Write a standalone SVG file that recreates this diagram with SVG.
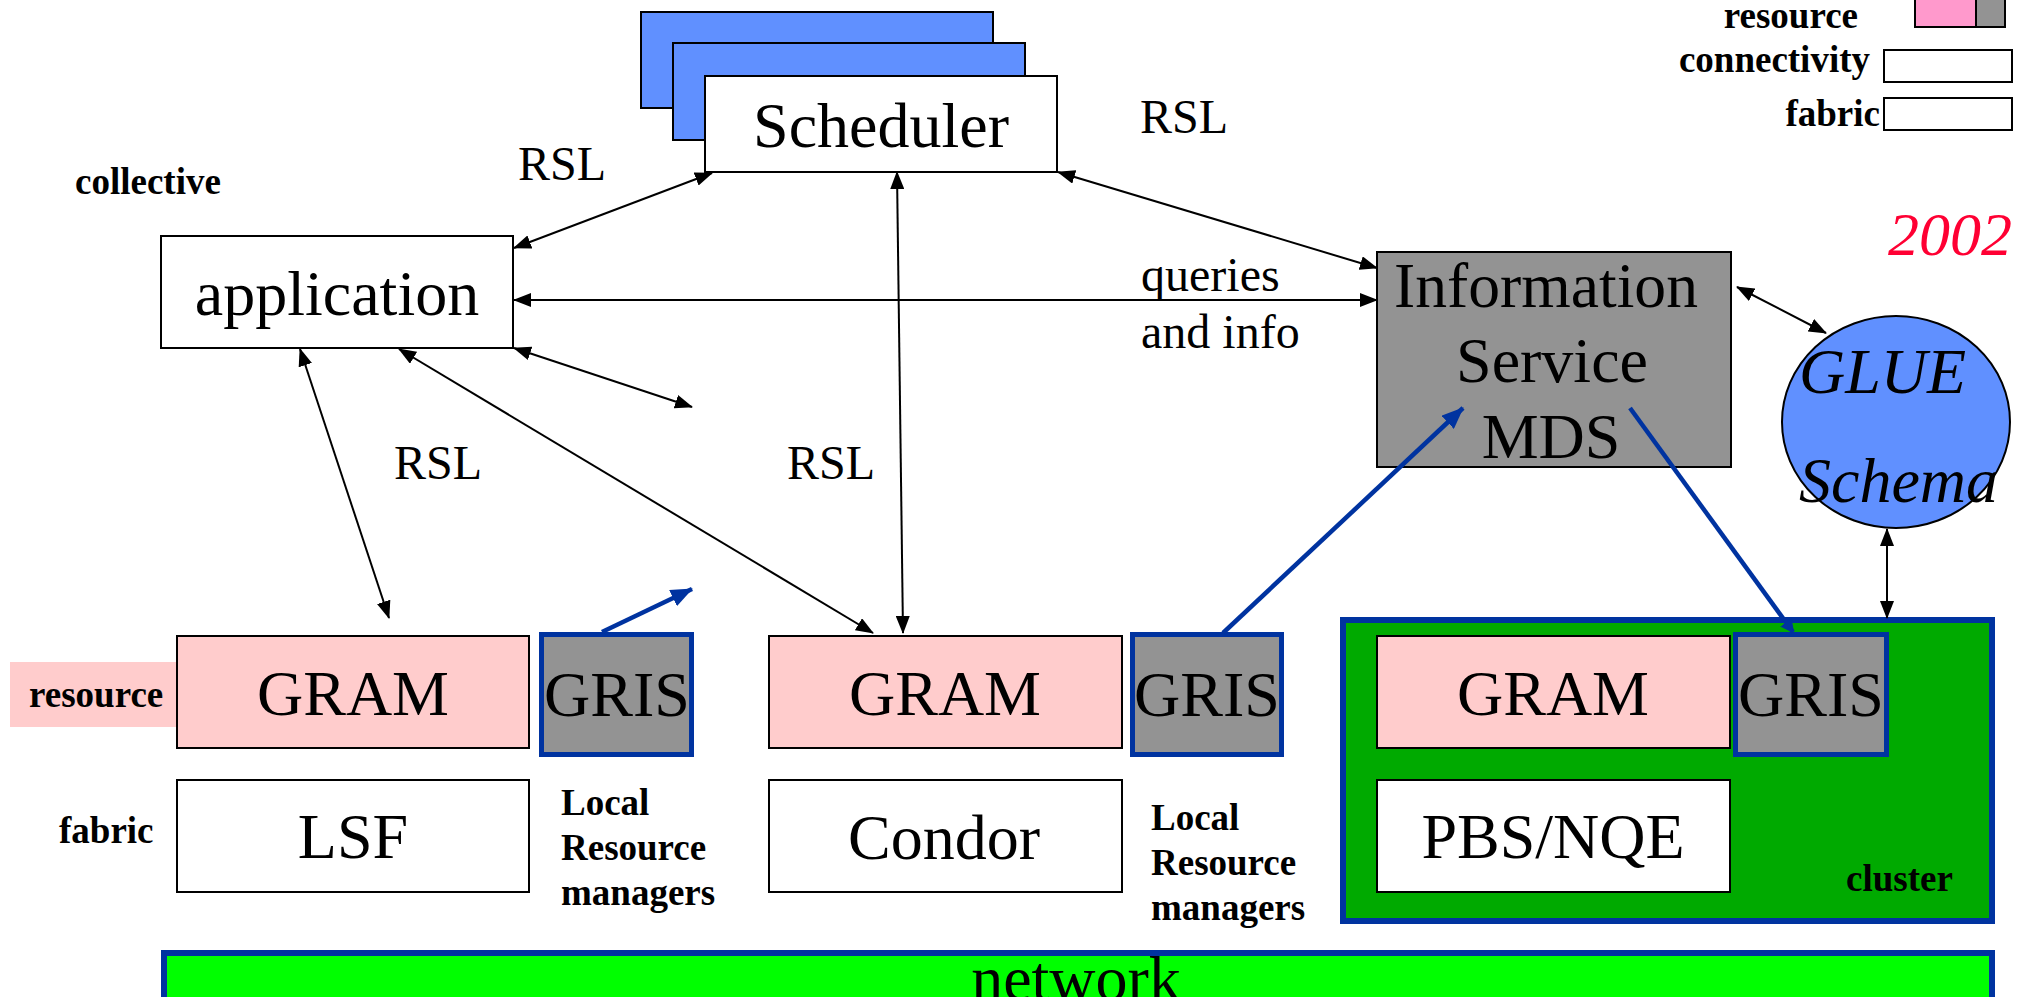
<svg xmlns="http://www.w3.org/2000/svg" width="2020" height="997" viewBox="0 0 2020 997">
<style>
.t{font-family:"Liberation Serif","Times New Roman",serif;fill:#000}
.big{font-size:64px}
.mid{font-size:48px}
.b{font-family:"Liberation Serif","Times New Roman",serif;font-weight:bold;font-size:37px;fill:#000}
.it{font-family:"Liberation Serif","Times New Roman",serif;font-style:italic;font-size:64px}
.box{stroke:#000;stroke-width:2}
.white{fill:#fff}
.pink{fill:#FFCCCC}
.gris{fill:#939393;stroke:#0033A0;stroke-width:5}
.bluebg{fill:#6090FF;stroke:#000;stroke-width:2}
.conn{stroke:#000;stroke-width:2;fill:none}
.bconn{stroke:#0033A0;stroke-width:4.5;fill:none}
</style>
<defs>
<marker id="ah" markerUnits="userSpaceOnUse" markerWidth="18" markerHeight="14" refX="17" refY="7" orient="auto-start-reverse">
<path d="M0,0 L18,7 L0,14 z" fill="#000"/>
</marker>
<marker id="bh" markerUnits="userSpaceOnUse" markerWidth="22" markerHeight="18" refX="21" refY="9" orient="auto">
<path d="M0,0 L22,9 L0,18 z" fill="#0033A0"/>
</marker>
<marker id="bs" markerUnits="userSpaceOnUse" markerWidth="14" markerHeight="14" refX="12" refY="7" orient="auto">
<path d="M0,0 L14,7 L0,14 z" fill="#0033A0"/>
</marker>
</defs>
<rect x="0" y="0" width="2020" height="997" fill="#fff"/>

<g id="legend">
<text class="b" x="1858" y="28" text-anchor="end">resource</text>
<rect x="1915" y="-5" width="61" height="32" fill="#FF99CC" class="box"/>
<rect x="1976" y="-5" width="29" height="32" fill="#939393" class="box"/>
<text class="b" x="1870" y="72" text-anchor="end">connectivity</text>
<rect x="1884" y="50" width="128" height="32" class="box white"/>
<text class="b" x="1880" y="126" text-anchor="end">fabric</text>
<rect x="1884" y="98" width="128" height="32" class="box white"/>
</g>

<g id="layer-labels">
<text class="b" x="75" y="194">collective</text>
<rect x="10" y="662" width="167" height="65" fill="#FFCCCC"/>
<text class="b" x="29" y="707">resource</text>
<text class="b" x="59" y="843">fabric</text>
</g>

<g id="year">
<text class="it" x="2012" y="255" text-anchor="end" style="font-size:62px;fill:#FF0033">2002</text>
</g>

<g id="scheduler">
<rect x="641" y="12" width="352" height="96" class="bluebg"/>
<rect x="673" y="43" width="352" height="97" class="bluebg"/>
<rect x="705" y="76" width="352" height="96" class="box white"/>
<text class="t big" x="881" y="147" text-anchor="middle">Scheduler</text>
</g>

<g id="application">
<rect x="161" y="236" width="352" height="112" class="box white"/>
<text class="t big" x="337" y="315" text-anchor="middle">application</text>
</g>

<g id="info-service">
<rect x="1377" y="252" width="354" height="215" fill="#939393" class="box"/>
<text class="t big" x="1546" y="307" text-anchor="middle" textLength="304" lengthAdjust="spacingAndGlyphs">Information</text>
<text class="t big" x="1552" y="382" text-anchor="middle">Service</text>
<text class="t big" x="1551" y="458" text-anchor="middle">MDS</text>
</g>

<g id="glue">
<ellipse cx="1896" cy="422" rx="114" ry="106" fill="#6090FF" stroke="#000" stroke-width="2"/>
<text class="t it" x="1799" y="393">GLUE</text>
<text class="t it" x="1799" y="502">Schema</text>
</g>

<g id="site1">
<rect x="177" y="636" width="352" height="112" class="box pink"/>
<text class="t big" x="353" y="715" text-anchor="middle">GRAM</text>
<rect x="541.5" y="634.5" width="150" height="120" class="gris"/>
<text class="t big" x="617" y="716" text-anchor="middle">GRIS</text>
<rect x="177" y="780" width="352" height="112" class="box white"/>
<text class="t big" x="353" y="858" text-anchor="middle">LSF</text>
<text class="b" x="561" y="815">Local</text>
<text class="b" x="561" y="860">Resource</text>
<text class="b" x="561" y="905">managers</text>
</g>

<g id="site2">
<rect x="769" y="636" width="353" height="112" class="box pink"/>
<text class="t big" x="945" y="715" text-anchor="middle">GRAM</text>
<rect x="1132.5" y="634.5" width="149" height="120" class="gris"/>
<text class="t big" x="1207" y="716" text-anchor="middle">GRIS</text>
<rect x="769" y="780" width="353" height="112" class="box white"/>
<text class="t big" x="944" y="859" text-anchor="middle">Condor</text>
<text class="b" x="1151" y="830">Local</text>
<text class="b" x="1151" y="875">Resource</text>
<text class="b" x="1151" y="920">managers</text>
</g>

<g id="cluster">
<rect x="1343" y="620" width="649" height="301" fill="#00AA00" stroke="#0033A0" stroke-width="6"/>
<rect x="1377" y="636" width="353" height="112" class="box pink"/>
<text class="t big" x="1553" y="715" text-anchor="middle">GRAM</text>
<rect x="1735.5" y="634.5" width="151" height="120" class="gris"/>
<text class="t big" x="1811" y="716" text-anchor="middle">GRIS</text>
<rect x="1377" y="780" width="353" height="112" class="box white"/>
<text class="t big" x="1553" y="858" text-anchor="middle">PBS/NQE</text>
<text class="b" x="1846" y="891">cluster</text>
</g>

<g id="network">
<rect x="164" y="953" width="1828" height="60" fill="#00FF00" stroke="#0033A0" stroke-width="6"/>
<text class="t big" x="1076" y="1000" text-anchor="middle">network</text>
</g>

<g id="connectors">
<line class="conn" x1="514" y1="248" x2="712" y2="173" marker-start="url(#ah)" marker-end="url(#ah)"/>
<line class="conn" x1="514" y1="300" x2="1377" y2="300" marker-start="url(#ah)" marker-end="url(#ah)"/>
<line class="conn" x1="1058" y1="172" x2="1377" y2="268" marker-start="url(#ah)" marker-end="url(#ah)"/>
<line class="conn" x1="514" y1="348" x2="692" y2="407" marker-start="url(#ah)" marker-end="url(#ah)"/>
<line class="conn" x1="300" y1="349" x2="389" y2="618" marker-start="url(#ah)" marker-end="url(#ah)"/>
<line class="conn" x1="399" y1="349" x2="873" y2="633" marker-start="url(#ah)" marker-end="url(#ah)"/>
<line class="conn" x1="897" y1="172" x2="903" y2="633" marker-start="url(#ah)" marker-end="url(#ah)"/>
<line class="conn" x1="1737" y1="287" x2="1826" y2="333" marker-start="url(#ah)" marker-end="url(#ah)"/>
<line class="conn" x1="1887" y1="529" x2="1887" y2="618" marker-start="url(#ah)" marker-end="url(#ah)"/>
<line class="bconn" x1="602" y1="632" x2="692" y2="589" marker-end="url(#bh)"/>
<line class="bconn" x1="1223" y1="633" x2="1463" y2="408" marker-end="url(#bh)"/>
<line class="bconn" x1="1630" y1="408" x2="1793" y2="632" marker-end="url(#bs)"/>
<text class="t mid" x="518" y="180">RSL</text>
<text class="t mid" x="1140" y="133">RSL</text>
<text class="t mid" x="394" y="479">RSL</text>
<text class="t mid" x="787" y="479">RSL</text>
<text class="t mid" x="1141" y="291">queries</text>
<text class="t mid" x="1141" y="348">and info</text>
</g>
</svg>
